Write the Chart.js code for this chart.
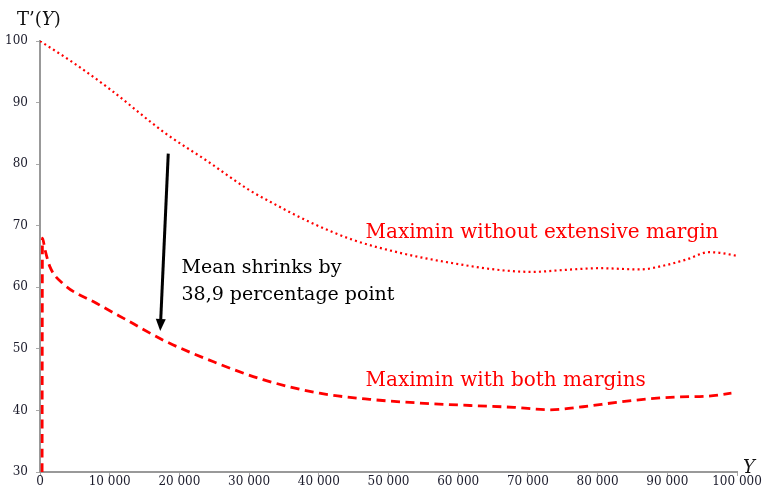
<!DOCTYPE html>
<html>
<head>
<meta charset="utf-8">
<script src="https://cdn.jsdelivr.net/npm/chart.js@4.4.1/dist/chart.umd.min.js"></script>
<style>
  html, body { margin: 0; padding: 0; background: #fff; }
  #chart { display: block; }
</style>
</head>
<body>
<canvas id="chart" width="762" height="492"></canvas>
<script>
// Marginal tax rate T'(Y) along income Y
const withoutExtX = [0, 5000, 10000, 18000, 24000, 30000, 33000, 38700, 44900, 52000, 59300,
                     66000, 70700, 75000, 80300, 86000, 89800, 92700, 96000, 97500, 100000];
const withoutExtY = [100, 96.3, 92.2, 85.0, 80.5, 75.8, 73.9, 70.6, 67.7, 65.5, 63.9,
                     62.8, 62.5, 62.8, 63.1, 62.9, 63.6, 64.5, 65.7, 65.6, 65.1];

const bothX = [300, 350, 700, 1400, 3300, 8100, 12900, 17700, 24900, 32000, 40100, 47300,
               54500, 61700, 68000, 73100, 77900, 82700, 87500, 91800, 95600, 99200];
const bothY = [30, 68.0, 66.2, 63.4, 60.6, 57.4, 54.4, 51.4, 47.9, 45.0, 42.8, 41.8,
               41.2, 40.8, 40.5, 40.1, 40.6, 41.3, 41.9, 42.2, 42.3, 42.8];

const xTicks = [0, 10000, 20000, 30000, 40000, 50000, 60000, 70000, 80000, 90000, 100000];
const yTicks = [30, 40, 50, 60, 70, 80, 90, 100];

const labelWithout = 'Maximin without extensive margin';
const labelBoth = 'Maximin with both margins';
const noteLines = ['Mean shrinks by', '38,9 percentage point'];

// annotation anchors in data units
const labelWithoutAt = [46700, 68.0];
const labelBothAt = [46700, 43.9];
const noteAt = [20300, 62.3, 57.9];
const arrowFrom = [18400, 81.7];
const arrowTo = [17250, 52.9];

const serif = '"DejaVu Serif", "Liberation Serif", serif';

function toPoints(xs, ys) {
    return xs.map((x, i) => ({ x: x, y: ys[i] }));
}

function fmtThousands(v) {
    return v >= 1000 ? String(v).replace(/\B(?=(\d{3})+(?!\d))/g, ' ') : String(v);
}

const annotations = {
    id: 'annotations',
    afterDatasetsDraw(chart) {
        const ctx = chart.ctx;
        const xs = chart.scales.x;
        const ys = chart.scales.y;
        const area = chart.chartArea;
        const px = v => xs.getPixelForValue(v);
        const py = v => ys.getPixelForValue(v);

        ctx.save();
        ctx.textBaseline = 'alphabetic';
        ctx.textAlign = 'left';

        // series labels
        ctx.fillStyle = '#ff0000';
        ctx.font = '20px ' + serif;
        ctx.fillText(labelWithout, px(labelWithoutAt[0]), py(labelWithoutAt[1]));
        ctx.fillText(labelBoth, px(labelBothAt[0]), py(labelBothAt[1]));

        // note
        ctx.fillStyle = '#000';
        ctx.font = '19px ' + serif;
        ctx.fillText(noteLines[0], px(noteAt[0]), py(noteAt[1]));
        ctx.fillText(noteLines[1], px(noteAt[0]), py(noteAt[2]));

        // arrow
        const x1 = px(arrowFrom[0]), y1 = py(arrowFrom[1]);
        const x2 = px(arrowTo[0]), y2 = py(arrowTo[1]);
        const ang = Math.atan2(y2 - y1, x2 - x1);
        const headLen = 12, headW = 5;
        const bx = x2 - headLen * Math.cos(ang), by = y2 - headLen * Math.sin(ang);
        ctx.strokeStyle = '#000';
        ctx.lineWidth = 3;
        ctx.beginPath();
        ctx.moveTo(x1, y1);
        ctx.lineTo(bx, by);
        ctx.stroke();
        ctx.beginPath();
        ctx.moveTo(x2, y2);
        ctx.lineTo(bx + headW * Math.sin(ang), by - headW * Math.cos(ang));
        ctx.lineTo(bx - headW * Math.sin(ang), by + headW * Math.cos(ang));
        ctx.closePath();
        ctx.fillStyle = '#000';
        ctx.fill();

        // axis titles: T'(Y) and Y
        ctx.fillStyle = '#111';
        let tx = area.left - 23, ty = area.top - 16;
        ctx.font = '18px ' + serif;
        ctx.fillText('T\u2019(', tx, ty);
        tx += ctx.measureText('T\u2019(').width;
        ctx.font = 'italic 18px ' + serif;
        ctx.fillText('Y', tx, ty);
        tx += ctx.measureText('Y').width;
        ctx.font = '18px ' + serif;
        ctx.fillText(')', tx, ty);

        ctx.font = 'italic 18px ' + serif;
        ctx.fillText('Y', area.right + 6, area.bottom + 1);
        ctx.restore();
    }
};

new Chart(document.getElementById('chart'), {
    type: 'line',
    data: {
        datasets: [{
            label: labelWithout,
            data: toPoints(withoutExtX, withoutExtY),
            borderColor: '#ff0000',
            borderWidth: 2.2,
            borderDash: [2, 3.2],
            pointRadius: 0,
            cubicInterpolationMode: 'monotone',
            fill: false
        }, {
            label: labelBoth,
            data: toPoints(bothX, bothY),
            borderColor: '#ff0000',
            borderWidth: 2.8,
            borderDash: [9, 5.5],
            pointRadius: 0,
            cubicInterpolationMode: 'monotone',
            fill: false
        }]
    },
    options: {
        responsive: false,
        devicePixelRatio: 1,
        animation: false,
        layout: { padding: { top: 41, right: 25, left: 0, bottom: 0 } },
        plugins: {
            legend: { display: false },
            tooltip: { enabled: false }
        },
        scales: {
            x: {
                type: 'linear',
                min: 0,
                max: 100000,
                afterFit: scale => { scale.height = 20; },
                afterBuildTicks: scale => { scale.ticks = xTicks.map(v => ({ value: v })); },
                ticks: {
                    color: '#1c1c2c',
                    font: { family: serif, size: 12 },
                    padding: -1,
                    maxRotation: 0,
                    autoSkip: false,
                    callback: v => fmtThousands(v)
                },
                grid: { drawOnChartArea: false, tickLength: 4, color: '#aaa' },
                border: { color: '#999', width: 2 }
            },
            y: {
                type: 'linear',
                min: 30,
                max: 100,
                afterFit: scale => { scale.width = 40; },
                afterBuildTicks: scale => { scale.ticks = yTicks.map(v => ({ value: v })); },
                ticks: {
                    color: '#1c1c2c',
                    font: { family: serif, size: 12 },
                    padding: 8
                },
                grid: { drawOnChartArea: false, tickLength: 4, color: '#aaa' },
                border: { color: '#999', width: 2 }
            }
        }
    },
    plugins: [annotations]
});
</script>
</body>
</html>
